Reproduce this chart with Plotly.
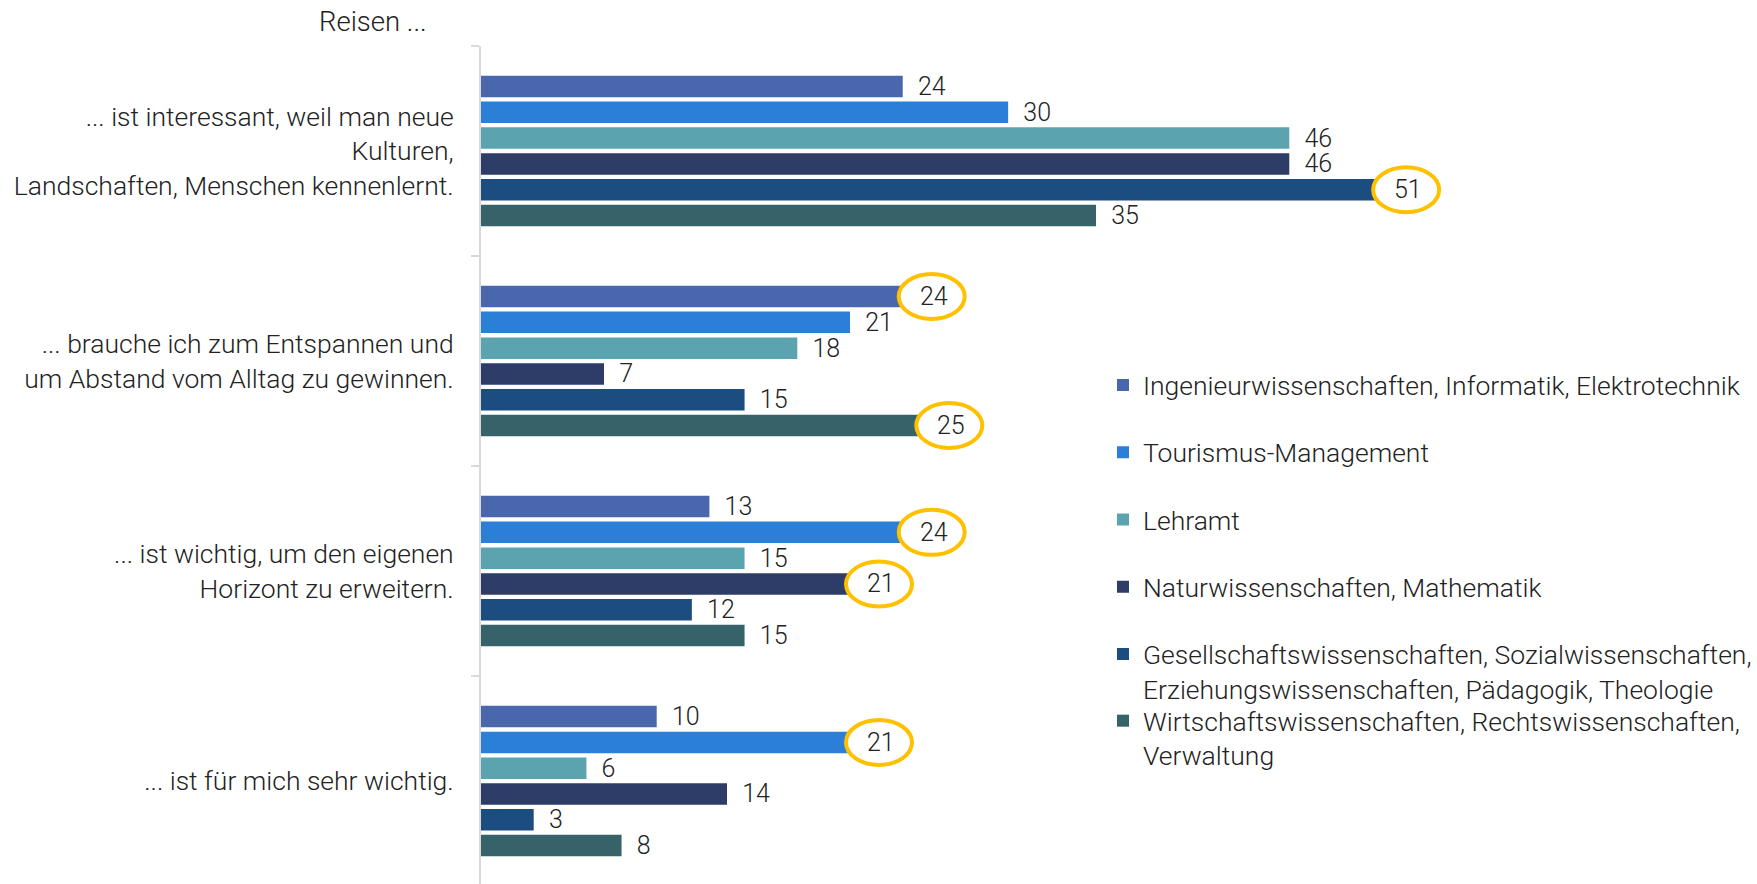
import plotly.graph_objects as go

# Survey statements (y categories), top to bottom
categories = [
    "... ist interessant, weil man neue<br>Kulturen,<br>Landschaften, Menschen kennenlernt.",
    "... brauche ich zum Entspannen und<br>um Abstand vom Alltag zu gewinnen.",
    "... ist wichtig, um den eigenen<br>Horizont zu erweitern.",
    "... ist für mich sehr wichtig.",
]

# Fields of study (series)
series_names = [
    "Ingenieurwissenschaften, Informatik, Elektrotechnik",
    "Tourismus-Management",
    "Lehramt",
    "Naturwissenschaften, Mathematik",
    "Gesellschaftswissenschaften, Sozialwissenschaften,<br>Erziehungswissenschaften, Pädagogik, Theologie",
    "Wirtschaftswissenschaften, Rechtswissenschaften,<br>Verwaltung",
]

# Agreement in percent, one value per statement
ingenieur = [24, 24, 13, 10]
tourismus = [30, 21, 24, 21]
lehramt = [46, 18, 15, 6]
natur = [46, 7, 21, 14]
gesellschaft = [51, 15, 12, 3]
wirtschaft = [35, 25, 15, 8]

# Values ringed in gold
ingenieur_hl = [False, True, False, False]
tourismus_hl = [False, False, True, True]
lehramt_hl = [False, False, False, False]
natur_hl = [False, False, True, False]
gesellschaft_hl = [True, False, False, False]
wirtschaft_hl = [False, True, False, False]

series_values = [ingenieur, tourismus, lehramt, natur, gesellschaft, wirtschaft]
series_hl = [ingenieur_hl, tourismus_hl, lehramt_hl, natur_hl, gesellschaft_hl, wirtschaft_hl]
colors = ["#4A67AD", "#2B7FD6", "#5BA3AF", "#2E3D68", "#1C4D80", "#356369"]
legend_groups = ["g1", "g2", "g3", "g4", "g5", "g6"]
legend_ids = ["legend", "legend", "legend", "legend", "legend", "legend2"]

FONT = "Roboto"
TEXT_COLOR = "#222222"
FS = 26.5        # statements and legend
FS_VAL = 25      # value labels
FS_HEAD = 27.5   # heading
RING = "#FFC000"

BARGAP = 0.263
BARGROUPGAP = 0.167
n_series = len(series_values)
slot = (1 - BARGAP) / n_series

fig = go.Figure()
for name, vals, hl, col, grp, leg in zip(series_names, series_values, series_hl,
                                         colors, legend_groups, legend_ids):
    labels = ["" if h else "\u00a0\u00a0" + str(v) for v, h in zip(vals, hl)]
    fig.add_trace(go.Bar(
        name=name,
        y=categories,
        x=vals,
        orientation="h",
        marker=dict(color=col, line=dict(width=0)),
        text=labels,
        textposition="outside",
        constraintext="none",
        cliponaxis=False,
        outsidetextfont=dict(family=FONT, size=FS_VAL, color=TEXT_COLOR, weight=300),
        legendgroup=grp,
        legend=leg,
        hoverinfo="x+name",
    ))

# Gold rings with the value inside for the highlighted bars
shapes = []
annotations = []
for i, (vals, hl) in enumerate(zip(series_values, series_hl)):
    offset = -(1 - BARGAP) / 2 + (i + 0.5) * slot
    for c, (v, h) in enumerate(zip(vals, hl)):
        if not h:
            continue
        yc = c + offset
        shapes.append(dict(
            type="circle", xref="x", yref="y",
            xsizemode="pixel", ysizemode="pixel",
            xanchor=v, yanchor=yc,
            x0=-4, x1=62, y0=-22.5, y1=22.5,
            line=dict(color=RING, width=4),
            fillcolor="white", layer="above",
        ))
        annotations.append(dict(
            x=v, y=yc, xref="x", yref="y",
            text=str(v), showarrow=False,
            xanchor="left", yanchor="middle", xshift=15,
            font=dict(family=FONT, size=FS_VAL, color=TEXT_COLOR, weight=300),
        ))

# Heading above the statements
annotations.append(dict(
    x=0, y=1.0298, xref="paper", yref="paper",
    text="Reisen ...", showarrow=False,
    xanchor="right", yanchor="middle", xshift=-52,
    font=dict(family=FONT, size=FS_HEAD, color=TEXT_COLOR, weight=300),
))

legend_style = dict(
    xanchor="left", yanchor="top",
    traceorder="grouped", tracegroupgap=29.8, valign="top",
    font=dict(family=FONT, size=FS, color=TEXT_COLOR, weight=300),
    bgcolor="rgba(0,0,0,0)", borderwidth=0,
)
legend_x = (1104 - 481) / 1232

fig.update_layout(
    width=1757, height=884,
    margin=dict(l=481, r=44, t=46, b=0),
    paper_bgcolor="white", plot_bgcolor="white",
    barmode="group", bargap=BARGAP, bargroupgap=BARGROUPGAP,
    font=dict(family=FONT, size=FS, color=TEXT_COLOR, weight=300),
    showlegend=True,
    legend=dict(x=legend_x, y=0.6239, **legend_style),
    legend2=dict(x=legend_x, y=0.2232, **legend_style),
    xaxis=dict(range=[0, 70], visible=False, fixedrange=True),
    yaxis=dict(
        type="category", range=[3.49, -0.5],
        showline=True, linecolor="#D9D9D9", linewidth=2,
        ticks="outside", tickson="boundaries", ticklen=8, tickwidth=2, tickcolor="#D9D9D9",
        ticklabelstandoff=20, showgrid=False, zeroline=False,
        tickfont=dict(family=FONT, size=FS, color=TEXT_COLOR, weight=300),
    ),
    shapes=shapes,
    annotations=annotations,
)

fig.write_html("out.html")
